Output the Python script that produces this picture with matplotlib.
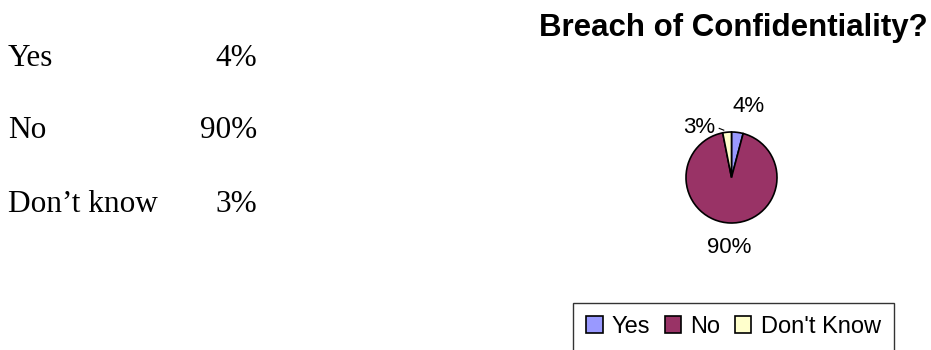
import matplotlib.pyplot as plt
from matplotlib.patches import Patch

# survey answers
answers = ['Yes', 'No', 'Don’t know']
legend_names = ['Yes', 'No', "Don't Know"]
shares = [4, 90, 3]
colors = ['#9999FF', '#993366', '#FFFFCC']

W, H = 931, 350
fig = plt.figure(figsize=(W / 100, H / 100), dpi=100)

# table of answers on the left
row_base = [66, 138, 212]
for name, val, yb in zip(answers, shares, row_base):
    fig.text(8 / W, 1 - yb / H, name, family='Liberation Serif', fontsize=22.5,
             va='baseline', ha='left')
    fig.text(257 / W, 1 - yb / H, f'{val}%', family='Liberation Serif',
             fontsize=22.5, va='baseline', ha='right')

# title
fig.text(928 / W, 1 - 36 / H, 'Breach of Confidentiality?', family='Liberation Sans',
         fontsize=22.5, fontweight='bold', ha='right', va='baseline')

# pie
cx, cy, r = 731.5, 177.5, 45.5
half = 80
ax = fig.add_axes([(cx - half) / W, 1 - (cy + half) / H, 2 * half / W, 2 * half / H])
wedges, texts = ax.pie(shares, colors=colors, startangle=90, counterclock=False,
                       labels=[f'{v}%' for v in shares], labeldistance=1.55,
                       wedgeprops=dict(edgecolor='black', linewidth=1.2),
                       textprops=dict(family='Liberation Sans', fontsize=16))
for t in texts:
    t.set_ha('center')
    t.set_va('center')
texts[0].set_position((0.38, 1.55))
texts[2].set_position((-0.7, 1.1))
# small leader line for the 3% label
ax.plot([-0.27, -0.17], [1.08, 1.04], color='black', lw=0.8)
lim = half / r
ax.set_xlim(-lim, lim)
ax.set_ylim(-lim, lim)
ax.set_aspect('equal')
ax.axis('off')

# legend
handles = [Patch(facecolor=c, edgecolor='black', linewidth=1.2) for c in colors]
leg = fig.legend(handles, legend_names, loc='upper left',
                 bbox_to_anchor=(573 / W, 1 - 303 / H), ncol=3,
                 prop=dict(family='Liberation Sans', size=17),
                 frameon=True, fancybox=False, edgecolor='black',
                 handlelength=0.7, handleheight=0.7, handletextpad=0.4,
                 columnspacing=0.6, borderpad=0.55, borderaxespad=0)
leg.get_frame().set_linewidth(1.0)

fig.savefig('out.png', dpi=100)
